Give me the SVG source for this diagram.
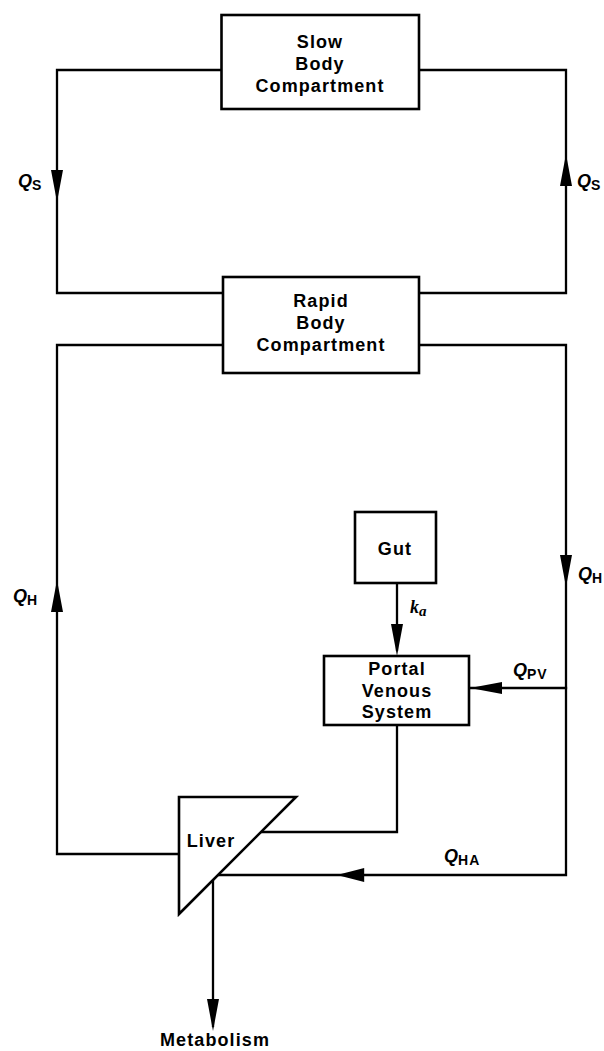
<svg xmlns="http://www.w3.org/2000/svg" xmlns:xlink="http://www.w3.org/1999/xlink" width="604" height="1051" viewBox="0 0 604 1051">
<style>
.box{fill:#fff;stroke:#000;stroke-width:2.6}
.ln{fill:none;stroke:#000;stroke-width:2.3;stroke-linejoin:miter;stroke-linecap:square}
.ah{fill:#000;stroke:none}
.t{font-family:"Liberation Sans",Arial,sans-serif;font-weight:bold;font-size:18px;letter-spacing:1.1px;text-anchor:middle;fill:#000}
.q{font-family:"Liberation Sans",Arial,sans-serif;font-weight:bold;font-style:italic;font-size:18px;fill:#000}
.sub{font-style:normal;font-size:14px}
.k{font-family:"Liberation Serif","Times New Roman",serif;font-weight:bold;font-style:italic;font-size:18px;fill:#000}
</style>
<defs>
<path id="ah" class="ah" d="M0,0 L-32,-6 L-32,6 Z"/>
</defs>
<rect width="604" height="1051" fill="#fff"/>
<g id="connectors">
<path class="ln" d="M221,70 H57 V293 H223"/>
<path class="ln" d="M419,293 H566 V70 H419"/>
<path class="ln" d="M223,345 H57 V854 H179"/>
<path class="ln" d="M419,345 H566 V875 H217"/>
<path class="ln" d="M566,688 H470"/>
<path class="ln" d="M397,583 V650"/>
<path class="ln" d="M397,725 V832 H260"/>
<path class="ln" d="M213,879 V1026"/>
<use xlink:href="#ah" transform="translate(57,202) rotate(90)"/>
<use xlink:href="#ah" transform="translate(566,154) rotate(-90)"/>
<use xlink:href="#ah" transform="translate(57,580) rotate(-90)"/>
<use xlink:href="#ah" transform="translate(566,587) rotate(90)"/>
<use xlink:href="#ah" transform="translate(337,875) rotate(180) scale(0.85,1.15)"/>
<use xlink:href="#ah" transform="translate(470,688) rotate(180)"/>
<use xlink:href="#ah" transform="translate(397,656) rotate(90)"/>
<use xlink:href="#ah" transform="translate(213,1031) rotate(90)"/>
<text class="q" x="18" y="187">Q<tspan class="sub" dy="3">S</tspan></text>
<text class="q" x="577" y="187">Q<tspan class="sub" dy="3">S</tspan></text>
<text class="q" x="13" y="602">Q<tspan class="sub" dy="3">H</tspan></text>
<text class="q" x="578" y="580">Q<tspan class="sub" dy="3">H</tspan></text>
<text class="q" x="513" y="676">Q<tspan class="sub" dy="3" letter-spacing="1">PV</tspan></text>
<text class="q" x="444" y="862">Q<tspan class="sub" dy="3" letter-spacing="1">HA</tspan></text>
<text class="k" x="410" y="613">k<tspan font-size="15" dy="3">a</tspan></text>
<text class="t" x="215" y="1046">Metabolism</text>
</g>
<g id="slow">
<rect class="box" x="221.5" y="15" width="197.5" height="94"/>
<text class="t" x="320" y="48">Slow</text>
<text class="t" x="320" y="70">Body</text>
<text class="t" x="320" y="92">Compartment</text>
</g>
<g id="rapid">
<rect class="box" x="223" y="277" width="196" height="96"/>
<text class="t" x="321" y="307">Rapid</text>
<text class="t" x="321" y="329">Body</text>
<text class="t" x="321" y="351">Compartment</text>
</g>
<g id="gut">
<rect class="box" x="355" y="512" width="81" height="71"/>
<text class="t" x="395" y="555">Gut</text>
</g>
<g id="portal">
<rect class="box" x="324" y="656" width="145" height="69"/>
<text class="t" x="397" y="675">Portal</text>
<text class="t" x="397" y="697">Venous</text>
<text class="t" x="397" y="718">System</text>
</g>
<g id="liver">
<polygon class="box" points="179,797 296,797 179,914"/>
<text class="t" x="211" y="847">Liver</text>
</g>
</svg>
